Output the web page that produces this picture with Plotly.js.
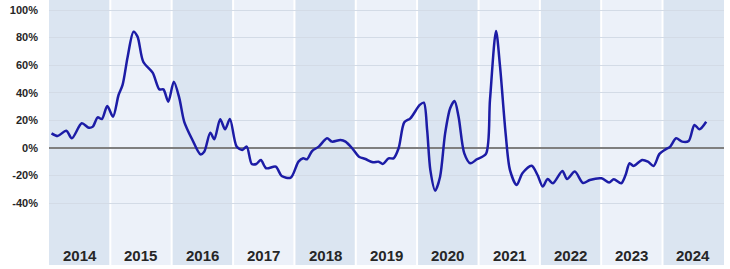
<!DOCTYPE html>
<html>
<head>
<meta charset="utf-8">
<script src="https://cdn.plot.ly/plotly-3.0.1.min.js"></script>
<style>html,body{margin:0;padding:0;background:#fff;}#chart{width:730px;height:269px;}</style>
</head>
<body>
<div id="chart"></div>
<script>
const dates = ["2014-01-16","2014-02-21","2014-04-14","2014-05-17","2014-07-15","2014-08-26","2014-09-19","2014-10-18","2014-11-12","2014-12-14",
"2015-01-17","2015-02-19","2015-03-15","2015-04-14","2015-05-19","2015-06-12","2015-07-16","2015-09-10","2015-10-20","2015-11-13","2015-12-12",
"2016-01-14","2016-02-16","2016-03-16","2016-05-04","2016-06-20","2016-07-13","2016-08-18","2016-09-11","2016-10-16","2016-11-14","2016-12-13",
"2017-01-22","2017-02-25","2017-03-23","2017-04-22","2017-05-19","2017-06-15","2017-07-17","2017-09-12","2017-10-17","2017-12-10",
"2018-01-25","2018-02-22","2018-03-17","2018-04-16","2018-05-26","2018-07-14","2018-08-13","2018-10-02","2018-11-01","2018-12-16",
"2019-01-20","2019-02-28","2019-04-13","2019-05-17","2019-06-11","2019-07-15","2019-08-14","2019-09-13","2019-10-17","2019-11-22",
"2020-01-17","2020-02-10","2020-03-01","2020-03-20","2020-04-18","2020-05-17","2020-06-16","2020-07-16","2020-08-11","2020-09-04","2020-10-08","2020-11-13","2020-12-22",
"2021-02-14","2021-03-10","2021-04-15","2021-05-09","2021-06-11","2021-07-07","2021-08-16","2021-09-19","2021-11-13","2021-12-18",
"2022-01-18","2022-02-16","2022-03-20","2022-05-15","2022-06-12","2022-07-28","2022-09-15","2022-10-25",
"2023-01-03","2023-02-17","2023-03-17","2023-04-30","2023-05-26","2023-06-19","2023-07-12","2023-09-02","2023-10-06","2023-11-09","2023-12-14",
"2024-01-19","2024-02-16","2024-03-22","2024-04-27","2024-06-05","2024-07-09","2024-08-08","2024-09-17"];
const values = [10.6,8.7,12.5,7,17.9,14.7,15.5,22.2,21,30.4,
22.7,38.4,45.7,66,84.3,80.7,62.5,54.6,42.5,42.5,33.6,
48,36,19,5.8,-4.6,-2.7,11.1,6.3,20.8,13.5,21,
1,-1.4,1,-11.6,-11.6,-8.7,-14.7,-13.5,-20.3,-21.5,
-9.9,-7.5,-8.2,-2.2,1,7,4.6,5.8,4.6,-1,
-6.3,-8,-10.4,-9.9,-11.6,-7.5,-7.5,-0.2,18.6,21.5,
31.2,32.8,13,-16,-30.9,-20.8,10.6,28.8,34,22.7,-3.9,-11.1,-8.2,
-4.3,34.8,84.8,58.9,10.6,-16,-26.8,-18.3,-12.8,-19.6,
-28,-22.5,-25.6,-16.7,-22.5,-17.1,-25.4,-23.2,
-22,-25.1,-22.7,-25.6,-19.6,-11.1,-13,-8.7,-9.9,-13,-4.3,
-1,1,7,4.6,5.1,16.7,13.5,19];
const years = [2014,2015,2016,2017,2018,2019,2020,2021,2022,2023,2024];
const yTicks = [-40,-20,0,20,40,60,80,100];
const yTickText = yTicks.map(v => v + "%");

const shapes = [];
years.forEach((y, i) => {
  shapes.push({type:"rect", xref:"x", yref:"paper", x0:y+"-01-01", x1:(y+1)+"-01-01", y0:0, y1:1,
    fillcolor: i % 2 === 0 ? "#dbe5f1" : "#ecf1f9", line:{width:0}, layer:"below"});
});
years.slice(1).forEach(y => {
  shapes.push({type:"line", xref:"x", yref:"paper", x0:y+"-01-01", x1:y+"-01-01", y0:0, y1:1,
    line:{color:"#ffffff", width:2}, layer:"below"});
});

const annotations = years.map(y => ({
  x: y + "-07-02", y: 0.034, xref:"x", yref:"paper", text: String(y), showarrow:false,
  yanchor:"middle", xanchor:"center",
  font:{family:"Liberation Sans, Arial, sans-serif", size:15, color:"#262626", weight:"bold"}
}));

const trace = {
  x: dates, y: values, type:"scatter", mode:"lines",
  line:{color:"#1c1ca6", width:2.5, shape:"spline", smoothing:0.8},
  hoverinfo:"skip"
};

const layout = {
  width:730, height:269,
  margin:{l:49, r:6, t:0, b:4},
  paper_bgcolor:"#ffffff", plot_bgcolor:"#ffffff",
  showlegend:false,
  xaxis:{type:"date", range:["2014-01-01","2025-01-01"], showgrid:false, showticklabels:false,
    zeroline:false, showline:false, ticks:""},
  yaxis:{range:[-84.8,107.25], tickvals:yTicks, ticktext:yTickText, showgrid:true,
    gridcolor:"#d3dbe6", gridwidth:1, zeroline:true, zerolinecolor:"#7f7f7f", zerolinewidth:1.5,
    showline:false, ticks:"", ticklabelstandoff:10,
    tickfont:{family:"Liberation Sans, Arial, sans-serif", size:11, color:"#262626", weight:"bold"}},
  shapes: shapes,
  annotations: annotations
};

Plotly.newPlot("chart", [trace], layout, {staticPlot:true, displayModeBar:false});
</script>
</body>
</html>
